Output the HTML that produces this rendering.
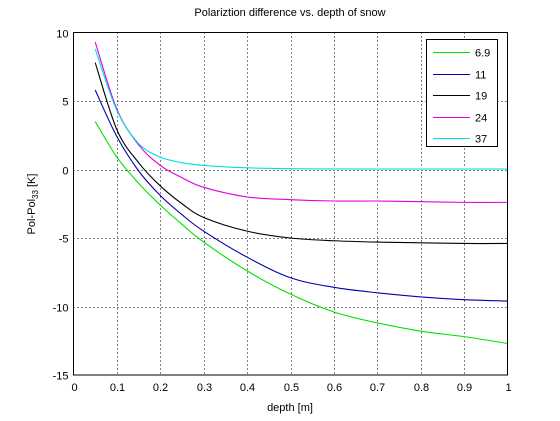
<!DOCTYPE html>
<html><head><meta charset="utf-8"><style>
body{margin:0;background:#fff;}
svg{display:block;font-family:"Liberation Sans",sans-serif;}
</style></head><body>
<svg id="chart" width="560" height="421">
<rect x="0" y="0" width="560" height="421" fill="#fff"/>
<text x="290" y="16" font-size="11" text-anchor="middle">Polariztion difference vs. depth of snow</text>
<text x="290" y="411" font-size="11" text-anchor="middle">depth [m]</text>
<text transform="translate(35,204) rotate(-90)" font-size="11" text-anchor="middle">Pol-Pol<tspan font-size="8" dy="3">33</tspan><tspan dy="-3"> [K]</tspan></text>
<g id="grid"></g><g id="ticks"></g><g id="series"></g>
<rect x="73.5" y="32.5" width="434" height="342.5" fill="none" stroke="#000"/>
<g id="legend"></g>
</svg>
<script>
const xs = [0.05,0.1,0.15,0.2,0.25,0.3,0.4,0.5,0.6,0.7,0.8,0.9,1.0];
const s69 = [3.5,0.9,-1.0,-2.6,-4.0,-5.3,-7.4,-9.1,-10.4,-11.2,-11.8,-12.2,-12.7];
const s11 = [5.8,2.4,-0.1,-1.9,-3.3,-4.5,-6.4,-7.9,-8.6,-9.0,-9.3,-9.5,-9.6];
const s19 = [7.8,2.9,0.5,-1.2,-2.5,-3.5,-4.5,-5.0,-5.2,-5.3,-5.35,-5.4,-5.4];
const s24 = [9.3,4.4,1.8,0.3,-0.6,-1.3,-2.0,-2.2,-2.3,-2.3,-2.35,-2.4,-2.4];
const s37 = [8.8,4.3,1.9,0.9,0.5,0.3,0.12,0.06,0.04,0.03,0.03,0.03,0.03];
const seriesNames = ["6.9","11","19","24","37"];
const seriesColors = ["#00e000","#0000b0","#000000","#e000e0","#00e0e0"];
const xTicks = [0,0.1,0.2,0.3,0.4,0.5,0.6,0.7,0.8,0.9,1];
const yTicks = [10,5,0,-5,-10,-15];
const NS="http://www.w3.org/2000/svg";
const X0=73.5,X1=507.5,Y0=375,Y1=32.5;
const sx=v=>X0+(v-0)/(1-0)*(X1-X0);
const sy=v=>Y0-(v+15)/25*(Y0-Y1);
function mk(t,a,p){const e=document.createElementNS(NS,t);for(const k in a)e.setAttribute(k,a[k]);p.appendChild(e);return e;}
const grid=document.getElementById('grid'),ticks=document.getElementById('ticks');
xTicks.forEach(t=>{
  const x=Math.round(sx(t))+0.5;
  if(t>0&&t<1){const l=mk('line',{x1:x,x2:x,y1:Y1,y2:Y0,stroke:'#000','stroke-dasharray':'1,3'},grid);
  }
  const tx=mk('text',{x:x,y:Y0+16,'font-size':11,'text-anchor':'middle'},ticks);tx.textContent=t;
  
});
yTicks.forEach(t=>{
  const y=Math.round(sy(t))+0.5;
  if(t>-15&&t<10){const l=mk('line',{x1:X0,x2:X1,y1:y,y2:y,stroke:'#000','stroke-dasharray':'1,3'},grid);
  }
  const tx=mk('text',{x:X0-5,y:y+4,'font-size':11,'text-anchor':'end'},ticks);tx.textContent=t;
  
});
function smoothPath(px,py){
  let d='M'+px[0]+','+py[0];
  for(let i=0;i<px.length-1;i++){
    const i0=Math.max(0,i-1),i3=Math.min(px.length-1,i+2);
    const c1x=px[i]+(px[i+1]-px[i0])/6,c1y=py[i]+(py[i+1]-py[i0])/6;
    const c2x=px[i+1]-(px[i3]-px[i])/6,c2y=py[i+1]-(py[i3]-py[i])/6;
    d+=' C'+c1x+','+c1y+' '+c2x+','+c2y+' '+px[i+1]+','+py[i+1];
  }
  return d;
}
const all=[s69,s11,s19,s24,s37];
const sg=document.getElementById('series');
all.forEach((s,i)=>{
  const p=mk('path',{d:smoothPath(xs.map(sx),s.map(sy)),fill:'none',stroke:seriesColors[i],'stroke-width':1.1},sg);
  
  
});
const lg=document.getElementById('legend');
const box=mk('rect',{x:426.5,y:39.5,width:71,height:107,fill:'#fff',stroke:'#000'},lg);

seriesNames.forEach((n,i)=>{
  const y=Math.round(52+i*21.5)+0.5;
  const l=mk('line',{x1:433,x2:470,y1:y,y2:y,stroke:seriesColors[i]},lg);
  
  const t=mk('text',{x:475,y:y+4,'font-size':11},lg);t.textContent=n;
  
});
</script>
</body></html>
